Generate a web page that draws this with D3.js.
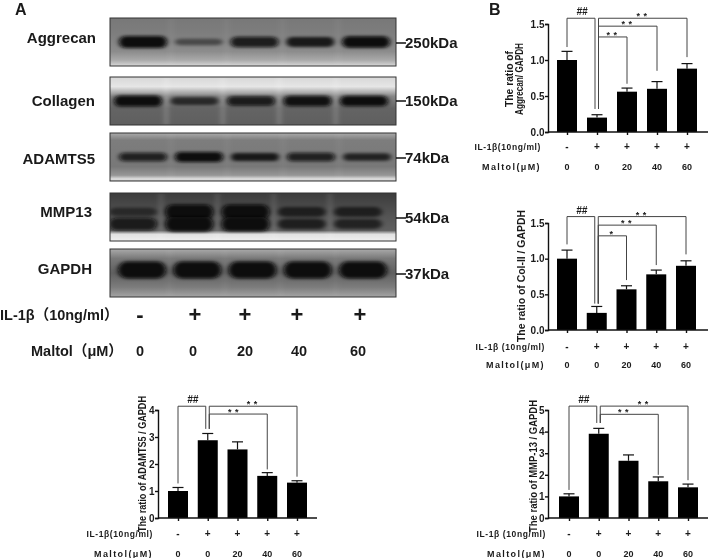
<!DOCTYPE html>
<html>
<head>
<meta charset="utf-8">
<script src="https://cdn.jsdelivr.net/npm/d3@7"></script>
<style>
  html, body { margin: 0; padding: 0; background: #fff; }
  svg { display: block; filter: blur(0.35px); }
  text { font-family: "Liberation Sans", Arial, "Noto Sans CJK SC", sans-serif; font-weight: bold; fill: #1a1a1a; }
</style>
</head>
<body>
<svg id="fig" width="709" height="558"></svg>
<script>
// blot data
const blotNames = ['Aggrecan', 'Collagen', 'ADAMTS5', 'MMP13', 'GAPDH'];
const blotSizes = ['250kDa', '150kDa', '74kDa', '54kDa', '37kDa'];
const aggrecanBands = [1, 0.3, 0.8, 0.72, 0.95];
const collagenBands = [1, 0.55, 0.8, 0.9, 0.95];
const adamtsBands = [0.75, 1, 0.72, 0.75, 0.62];
const mmpBandsUpper = [0.35, 1, 1, 0.5, 0.5];
const mmpBandsLower = [0.75, 1, 0.95, 0.55, 0.5];
const gapdhBands = [1, 1, 1, 1, 1];

// treatment rows
const il1Signs = ['-', '+', '+', '+', '+'];
const maltolDoses = ['0', '0', '20', '40', '60'];

// bar chart data
const aggrecanRatio = [1.0, 0.2, 0.56, 0.6, 0.88];
const aggrecanErr = [0.12, 0.04, 0.05, 0.1, 0.07];
const colRatio = [1.0, 0.24, 0.57, 0.78, 0.9];
const colErr = [0.12, 0.09, 0.05, 0.06, 0.07];
const mmpRatio = [1.0, 3.9, 2.65, 1.7, 1.42];
const mmpErr = [0.12, 0.25, 0.27, 0.2, 0.15];
const adamtsRatio = [1.0, 2.88, 2.54, 1.56, 1.31];
const adamtsErr = [0.13, 0.25, 0.28, 0.12, 0.07];

const svg = d3.select('#fig');
const defs = svg.append('defs');

defs.append('filter').attr('id', 'blur3').attr('x', '-30%').attr('y', '-100%').attr('width', '160%').attr('height', '300%')
  .append('feGaussianBlur').attr('stdDeviation', '2.4 1.5');

function drawBlot(i, top, bandRows, tones, thick, laneRange, gapAlpha) {
  const h = 48, left = 110, right = 396;
  const lanes = d3.scalePoint().domain(d3.range(5)).range(laneRange);
  const id = 'bg' + i;
  const grad = defs.append('linearGradient').attr('id', id).attr('x1', 0).attr('x2', 0).attr('y1', 0).attr('y2', 1);
  tones.forEach(t => {
    grad.append('stop').attr('offset', t[0]).attr('stop-color', d3.rgb(t[1], t[1], t[1]));
  });
  defs.append('clipPath').attr('id', 'clip' + i)
    .append('rect').attr('x', left).attr('y', top).attr('width', right - left).attr('height', h);

  const g = svg.append('g').attr('clip-path', `url(#clip${i})`);
  g.append('rect').attr('x', left).attr('y', top).attr('width', right - left).attr('height', h).attr('fill', `url(#${id})`);

  // lighter streaks between the lanes
  g.append('g').attr('filter', 'url(#blur3)')
    .selectAll('rect').data(d3.range(4)).join('rect')
    .attr('x', k => (lanes(k) + lanes(k + 1)) / 2 - 2).attr('width', 4)
    .attr('y', top).attr('height', h)
    .attr('fill', '#fff').attr('opacity', gapAlpha);

  bandRows.forEach(row => {
    g.append('g').attr('filter', 'url(#blur3)')
      .selectAll('rect').data(row.values).join('rect')
      .attr('x', (d, k) => lanes(k) - 24)
      .attr('width', 48)
      .attr('y', d => top + row.dy - thick * (0.35 + 0.65 * d) / 2)
      .attr('height', d => thick * (0.35 + 0.65 * d))
      .attr('rx', thick / 2)
      .attr('fill', '#080808')
      .attr('opacity', d => Math.min(1, 0.2 + d * 0.85));
  });

  svg.append('rect').attr('x', left).attr('y', top).attr('width', right - left).attr('height', h)
    .attr('fill', 'none').attr('stroke', '#333').attr('stroke-width', 1);
}

drawBlot(0, 18, [{ dy: 24, values: aggrecanBands }],
  [[0, 120], [0.3, 125], [0.7, 140], [0.88, 170], [1, 215]], 12, [143, 366], 0.05);
drawBlot(1, 77, [{ dy: 24, values: collagenBands }],
  [[0, 215], [0.2, 230], [0.4, 135], [0.65, 100], [1, 95]], 11, [138, 364], 0.2);
drawBlot(2, 133, [{ dy: 24, values: adamtsBands }],
  [[0, 170], [0.15, 125], [0.7, 120], [0.88, 150], [0.96, 225], [1, 190]], 10, [143, 367], 0.05);
drawBlot(3, 193, [{ dy: 19, values: mmpBandsUpper }, { dy: 31, values: mmpBandsLower }],
  [[0, 60], [0.5, 85], [0.78, 95], [0.86, 225], [1, 240]], 15, [133, 358], 0.12);
drawBlot(4, 249, [{ dy: 21, values: gapdhBands }],
  [[0, 170], [0.2, 120], [0.5, 95], [0.8, 125], [1, 165]], 17, [142, 363], 0.05);

// blot labels
const labelRight = [96, 95, 95, 92, 92];
const labelY = [43, 106, 164, 217, 274];
const sizeY = [48, 106, 163, 223, 279];
svg.selectAll('.blotName').data(blotNames).join('text')
  .attr('x', (d, i) => labelRight[i]).attr('y', (d, i) => labelY[i])
  .attr('text-anchor', 'end').attr('font-size', 15).text(d => d);
svg.selectAll('.blotSize').data(blotSizes).join('text')
  .attr('x', 405).attr('y', (d, i) => sizeY[i]).attr('font-size', 15).text(d => d);
svg.selectAll('.blotTick').data(sizeY).join('line')
  .attr('x1', 396).attr('x2', 406).attr('y1', d => d - 5).attr('y2', d => d - 5)
  .attr('stroke', '#111').attr('stroke-width', 1.5);

// treatment rows under the blots
const signX = [140, 195, 245, 297, 360];
const doseX = [140, 193, 245, 299, 358];
svg.append('text').attr('x', 0).attr('y', 320).attr('font-size', 14.5).text('IL-1β（10ng/ml）');
svg.append('text').attr('x', 31).attr('y', 356).attr('font-size', 14.5).text('Maltol（μM）');
svg.selectAll('.sign').data(il1Signs).join('text')
  .attr('x', (d, i) => signX[i]).attr('y', 322).attr('text-anchor', 'middle')
  .attr('font-size', 22).text(d => d);
svg.selectAll('.dose').data(maltolDoses).join('text')
  .attr('x', (d, i) => doseX[i]).attr('y', 356).attr('text-anchor', 'middle')
  .attr('font-size', 14.5).text(d => d);

svg.append('text').attr('x', 15).attr('y', 15).attr('font-size', 16).text('A');
svg.append('text').attr('x', 489).attr('y', 15).attr('font-size', 16).text('B');

function drawChart(o) {
  const y = d3.scaleLinear().domain([0, o.max]).range([o.y0, o.yTop]);
  const x = d3.scalePoint().domain(d3.range(5)).range(o.barRange);
  const g = svg.append('g');

  g.append('g').attr('fill', '#000').selectAll('rect').data(o.values).join('rect')
    .attr('x', (d, i) => x(i) - 10).attr('width', 20)
    .attr('y', d => y(d)).attr('height', d => o.y0 - y(d));

  const err = g.append('g').attr('stroke', '#111').attr('stroke-width', 1.2);
  err.selectAll('.stem').data(o.values).join('line')
    .attr('x1', (d, i) => x(i)).attr('x2', (d, i) => x(i))
    .attr('y1', d => y(d)).attr('y2', (d, i) => y(d + o.errors[i]));
  err.selectAll('.cap').data(o.values).join('line')
    .attr('x1', (d, i) => x(i) - 5.5).attr('x2', (d, i) => x(i) + 5.5)
    .attr('y1', (d, i) => y(d + o.errors[i])).attr('y2', (d, i) => y(d + o.errors[i]));

  const yAxis = d3.axisLeft(y).tickValues(o.ticks).tickFormat(o.fmt).tickSize(3).tickPadding(0.5);
  const ya = g.append('g').attr('transform', `translate(${o.axisX},0)`).call(yAxis);
  ya.selectAll('path,line').attr('stroke', '#111').attr('stroke-width', 1.4);
  ya.selectAll('text').attr('font-size', 10).attr('font-family', '"Liberation Sans"');

  const xAxis = d3.axisBottom(x).tickSize(3).tickFormat('');
  const xa = g.append('g').attr('transform', `translate(0,${o.y0})`).call(xAxis);
  xa.select('.domain').attr('d', `M${o.axisX},0H${o.axisEnd}`);
  xa.selectAll('path,line').attr('stroke', '#111').attr('stroke-width', 1.4);

  // significance brackets, given in axis units
  const br = g.append('g').attr('fill', 'none').attr('stroke', '#444').attr('stroke-width', 1);
  const mid = x(1);
  const topY = y(o.hashLevel);
  br.append('path').attr('d', `M${x(0)},${y(o.hashDrop[0])}V${topY}H${mid - 2}V${y(o.hashDrop[1])}`);
  g.append('text').attr('x', (x(0) + mid) / 2).attr('y', topY - 3).attr('text-anchor', 'middle')
    .attr('font-size', 10).attr('font-style', 'italic').text('##');
  o.brackets.forEach(b => {
    br.append('path').attr('d', `M${mid + 1.5},${y(o.hashDrop[1])}V${y(b.level)}H${x(b.bar)}V${y(b.drop)}`);
    g.append('text').attr('x', (mid + x(b.bar)) / 2 + (b.shift || 0)).attr('y', y(b.level) + 1).attr('text-anchor', 'middle')
      .attr('font-size', 9).attr('letter-spacing', 0.5).text(b.mark);
  });

  // treatment rows
  g.selectAll('.s').data(il1Signs).join('text')
    .attr('x', (d, i) => x(i)).attr('y', o.rowY[0]).attr('text-anchor', 'middle')
    .attr('font-size', 10).text(d => d);
  g.selectAll('.d').data(maltolDoses).join('text')
    .attr('x', (d, i) => x(i)).attr('y', o.rowY[1]).attr('text-anchor', 'middle')
    .attr('font-size', 9).text(d => d);
  g.append('text').attr('x', o.rowEnd).attr('y', o.rowY[0]).attr('text-anchor', 'end')
    .attr('font-size', 8.5).attr('letter-spacing', 0.6).text(o.il1Label);
  g.append('text').attr('x', o.rowEnd).attr('y', o.rowY[1]).attr('text-anchor', 'end')
    .attr('font-size', 9).attr('letter-spacing', 1.4).text('Maltol(μM)');

  // y titles
  o.titles.forEach(t => {
    g.append('text').attr('transform', `translate(${t.x},${t.y}) rotate(-90)`)
      .attr('text-anchor', 'middle').attr('font-size', t.size)
      .attr('font-weight', t.weight || 'bold')
      .attr('textLength', t.len).attr('lengthAdjust', 'spacingAndGlyphs').text(t.text);
  });
}

const fmt1 = d3.format('.1f');
const fmt0 = d3.format('d');

drawChart({
  values: aggrecanRatio, errors: aggrecanErr, max: 1.5, ticks: [0, 0.5, 1, 1.5], fmt: fmt1,
  y0: 132, yTop: 24, axisX: 548, axisEnd: 708, barRange: [567, 687],
  hashLevel: 1.58, hashDrop: [1.18, 0.32],
  brackets: [
    { bar: 2, level: 1.32, drop: 0.67, mark: '* *' },
    { bar: 3, level: 1.47, drop: 0.85, mark: '* *' },
    { bar: 4, level: 1.58, drop: 1.04, mark: '* *' }
  ],
  rowY: [150, 170], rowEnd: 541, il1Label: 'IL-1β(10ng/ml)',
  titles: [
    { x: 513, y: 79, size: 10.5, text: 'The ratio of', len: 56 },
    { x: 522.5, y: 79, size: 10, text: 'Aggrecan/ GAPDH', weight: 'normal', len: 72 }
  ]
});

drawChart({
  values: colRatio, errors: colErr, max: 1.5, ticks: [0, 0.5, 1, 1.5], fmt: fmt1,
  y0: 330, yTop: 223, axisX: 548, axisEnd: 708, barRange: [567, 686],
  hashLevel: 1.59, hashDrop: [1.2, 0.37],
  brackets: [
    { bar: 2, level: 1.32, drop: 0.7, mark: '*' },
    { bar: 3, level: 1.47, drop: 0.91, mark: '* *' },
    { bar: 4, level: 1.59, drop: 1.06, mark: '* *' }
  ],
  rowY: [350, 368], rowEnd: 545, il1Label: 'IL-1β (10ng/ml)',
  titles: [{ x: 525, y: 276, size: 10, text: 'The ratio of Col-II / GAPDH', len: 132 }]
});

drawChart({
  values: mmpRatio, errors: mmpErr, max: 5, ticks: d3.range(0, 6), fmt: fmt0,
  y0: 518, yTop: 410, axisX: 548, axisEnd: 708, barRange: [569, 688],
  hashLevel: 5.18, hashDrop: [1.3, 4.4],
  brackets: [
    { bar: 3, level: 4.8, drop: 2.0, mark: '* *', shift: -5 },
    { bar: 4, level: 5.18, drop: 1.75, mark: '* *' }
  ],
  rowY: [537, 556.5], rowEnd: 546, il1Label: 'IL-1β (10ng/ml)',
  titles: [{ x: 536.5, y: 466, size: 10, text: 'The ratio of MMP-13 / GAPDH', len: 132 }]
});

drawChart({
  values: adamtsRatio, errors: adamtsErr, max: 4, ticks: d3.range(0, 5), fmt: fmt0,
  y0: 518, yTop: 410, axisX: 158, axisEnd: 317, barRange: [178, 297],
  hashLevel: 4.14, hashDrop: [1.28, 3.3],
  brackets: [
    { bar: 3, level: 3.85, drop: 1.8, mark: '* *', shift: -4 },
    { bar: 4, level: 4.14, drop: 1.53, mark: '* *' }
  ],
  rowY: [537, 556.5], rowEnd: 153, il1Label: 'IL-1β(10ng/ml)',
  titles: [{ x: 146, y: 464, size: 10, text: 'The ratio of ADAMTS5 / GAPDH', len: 136 }]
});
</script>
</body>
</html>
